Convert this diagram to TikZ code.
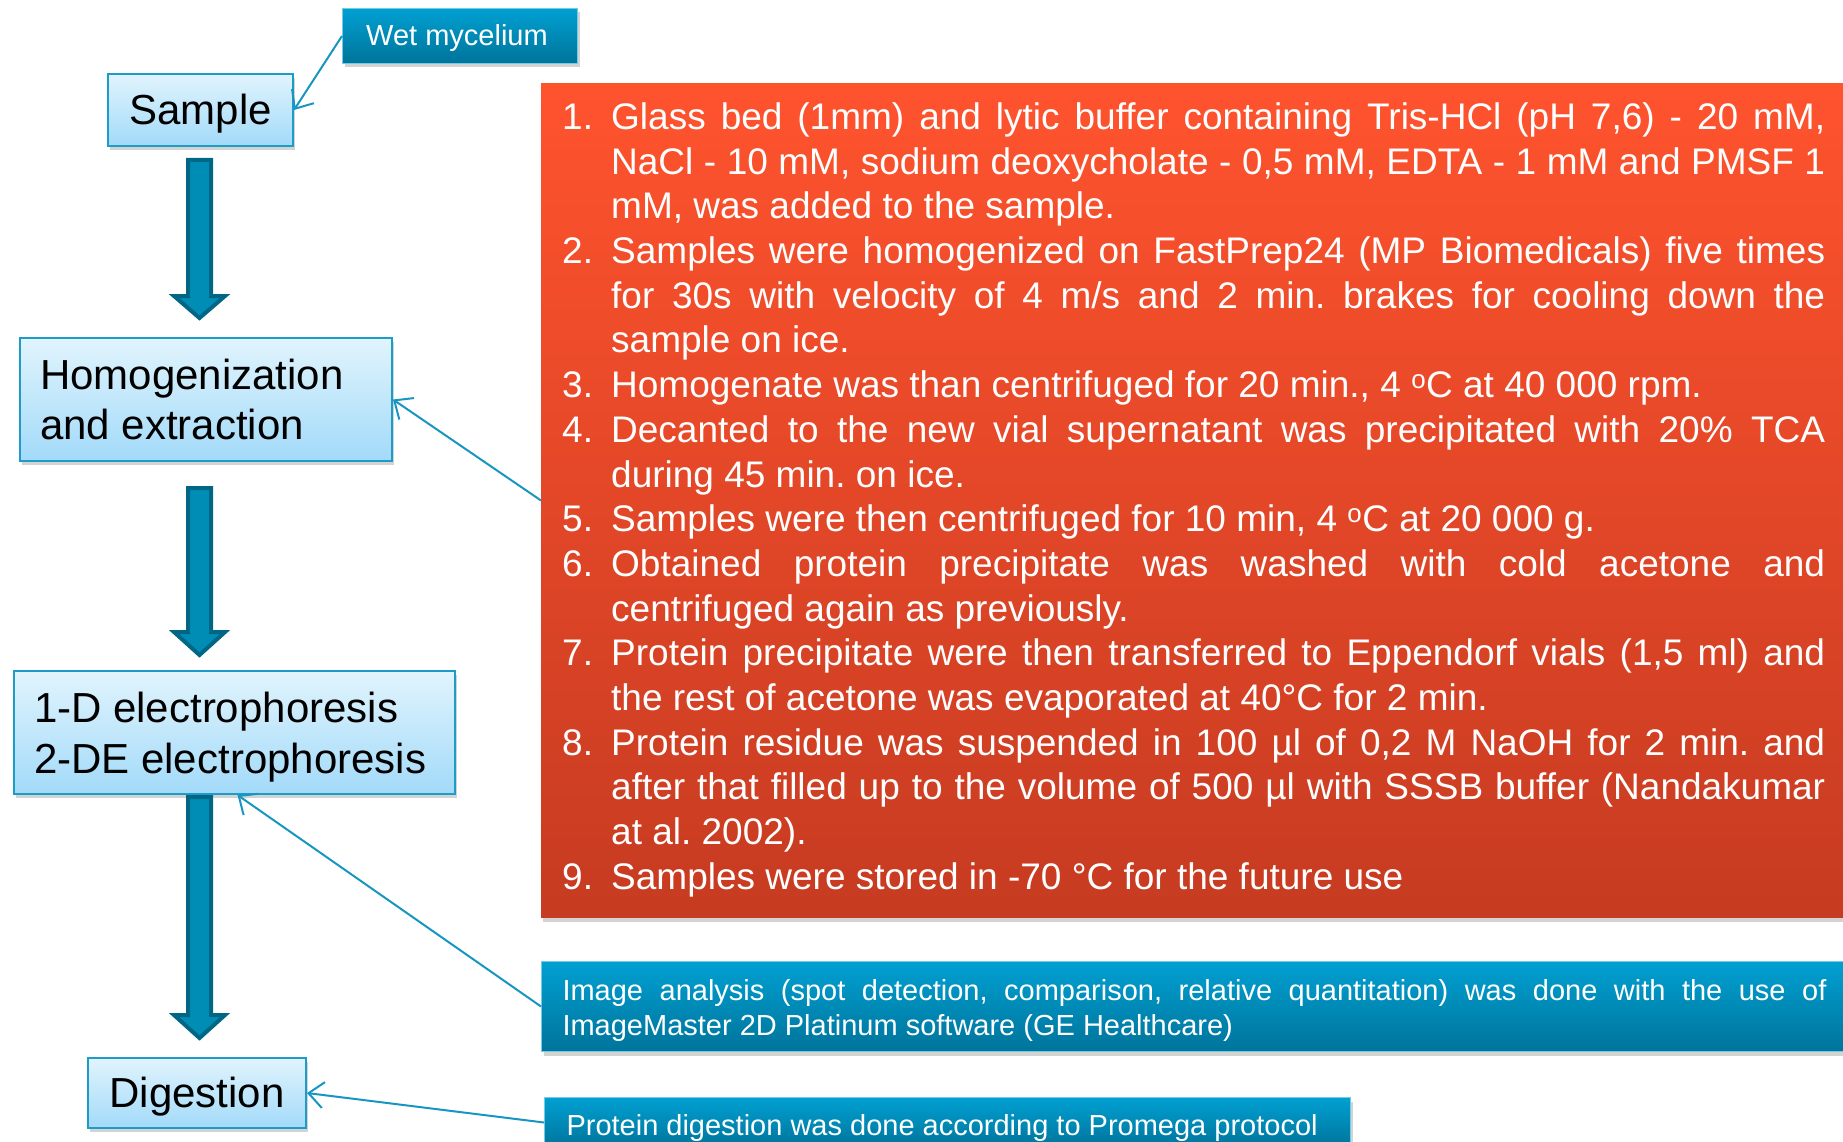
\documentclass[tikz,border=0pt]{standalone}
\usepackage{fontspec}
\setmainfont{Liberation Sans}
\usetikzlibrary{shadows,arrows.meta,calc}

\definecolor{boxtop}{HTML}{E1F4FD}
\definecolor{boxbot}{HTML}{A2DAF9}
\definecolor{boxline}{HTML}{1C9CC6}
\definecolor{labtop}{HTML}{00A0D2}
\definecolor{labbot}{HTML}{00749B}
\definecolor{redtop}{HTML}{FF532E}
\definecolor{redbot}{HTML}{C63B21}
\definecolor{arrfill}{HTML}{008DB5}
\definecolor{arrline}{HTML}{006685}
\definecolor{connc}{HTML}{1796C2}

\newcommand\steplabel[1]{\makebox[49pt][l]{#1}}
\newcommand\stepjust[1]{\makebox[1214pt][s]{#1}}
\newcommand\stepindent{\hspace*{49pt}}
\newcommand\degsup{\textsuperscript{o}}
\newcommand\fontspaces{\frenchspacing\spaceskip=0pt\xspaceskip=0pt\relax}
\newcommand\lowered[2]{\raisebox{-#1}[\height][\depth]{#2}}

\begin{document}
\begin{tikzpicture}[x=1pt,y=-1pt,
  shadowed/.style={drop shadow={shadow xshift=2pt,shadow yshift=-4pt,opacity=0.35}},
  flowbox/.style={draw=boxline, line width=2pt, top color=boxtop, bottom color=boxbot,
    shadowed, text=black, font=\fontsize{42}{50.5}\selectfont, anchor=north west, inner sep=0pt},
  labelbox/.style={draw=labtop!55!white, line width=1pt, top color=labtop, bottom color=labbot,
    shadowed, text=white, font=\fontsize{29}{35}\selectfont, anchor=north west, inner sep=0pt},
  redbox/.style={top color=redtop, bottom color=redbot, shadowed, text=white,
    font=\fontsize{37}{44.7}\selectfont, anchor=north west, inner xsep=21pt, inner ysep=15pt,
    align=left, text width=1263pt},
  connector/.style={draw=connc, line width=2pt, -{Straight Barb[length=15pt,width=26pt]}},
  blockarrow/.style={fill=arrfill, draw=arrline, line width=4pt, line join=miter}
]
\useasboundingbox (0,0) rectangle (1843,1142);
\clip (0,0) rectangle (1843,1142);

% flow boxes
\node[flowbox, minimum width=185pt, minimum height=72pt] (sample) at (107,73) {\lowered{4pt}{Sample}};
\node[flowbox, minimum height=123pt, align=left, text width=332pt, inner xsep=20pt] (homo) at (19,337)
  {\fontspaces Homogenization\\and extraction};
\node[flowbox, minimum height=123pt, align=left, text width=401pt, inner xsep=20pt] (elec) at (13,670)
  {\fontspaces\rule{0pt}{40pt}1-D electrophoresis\\2-DE electrophoresis};
\node[flowbox, minimum width=218pt, minimum height=70pt] (dig) at (87,1057) {\lowered{4pt}{Digestion}};

% block arrows
\draw[blockarrow] (188,160) -- (211,160) -- (211,296) -- (225,296) -- (199.5,318) -- (174,296) -- (188,296) -- cycle;
\draw[blockarrow] (188,488) -- (211,488) -- (211,632) -- (225,632) -- (199.5,655) -- (174,632) -- (188,632) -- cycle;
\draw[blockarrow] (188,797) -- (211,797) -- (211,1015) -- (225,1015) -- (199.5,1038) -- (174,1015) -- (188,1015) -- cycle;

% label boxes
\node[labelbox, minimum width=235pt, minimum height=55pt] (wet) at (342,8) {\lowered{2pt}{Wet mycelium}\hspace*{6pt}};

\node[redbox] (steps) at (541,83) {\fontspaces
\strut\steplabel{1.}\stepjust{Glass bed (1mm) and lytic buffer containing Tris-HCl (pH 7,6) - 20 mM,}\\
\stepindent\stepjust{NaCl - 10 mM, sodium deoxycholate - 0,5 mM, EDTA - 1 mM and PMSF 1}\\
\stepindent mM, was added to the sample.\\
\steplabel{2.}\stepjust{Samples were homogenized on FastPrep24 (MP Biomedicals) five times}\\
\stepindent\stepjust{for 30s with velocity of 4 m/s and 2 min. brakes for cooling down the}\\
\stepindent sample on ice.\\
\steplabel{3.}Homogenate was than centrifuged for 20 min., 4 \degsup C at 40 000 rpm.\\
\steplabel{4.}\stepjust{Decanted to the new vial supernatant was precipitated with 20\% TCA}\\
\stepindent during 45 min. on ice.\\
\steplabel{5.}Samples were then centrifuged for 10 min, 4 \degsup C at 20 000 g.\\
\steplabel{6.}\stepjust{Obtained protein precipitate was washed with cold acetone and}\\
\stepindent centrifuged again as previously.\\
\steplabel{7.}\stepjust{Protein precipitate were then transferred to Eppendorf vials (1,5 ml) and}\\
\stepindent the rest of acetone was evaporated at 40°C for 2 min.\\
\steplabel{8.}\stepjust{Protein residue was suspended in 100 µl of 0,2 M NaOH for 2 min. and}\\
\stepindent\stepjust{after that filled up to the volume of 500 µl with SSSB buffer (Nandakumar}\\
\stepindent at al. 2002).\\
\steplabel{9.}Samples were stored in -70 °C for the future use\strut};

\node[labelbox, minimum width=1306pt, minimum height=90pt, align=left, text width=1264pt, inner xsep=21pt] (image) at (541,961)
  {\fontspaces\rule{0pt}{34pt}\makebox[1264pt][s]{Image analysis (spot detection, comparison, relative quantitation) was done with the use of}\\
   ImageMaster 2D Platinum software (GE Healthcare)\strut};

\node[labelbox, minimum height=50pt, inner xsep=22pt] (prot) at (544,1097)
  {\lowered{5pt}{\makebox[762pt][l]{Protein digestion was done according to Promega protocol}}};

% connectors
\draw[connector] (wet.west) -- (sample.east);
\draw[connector] (steps.west) -- (homo.east);
\draw[connector] (image.west) -- ([xshift=3pt]elec.south);
\draw[connector] (prot.west) -- (dig.east);
\end{tikzpicture}
\end{document}
